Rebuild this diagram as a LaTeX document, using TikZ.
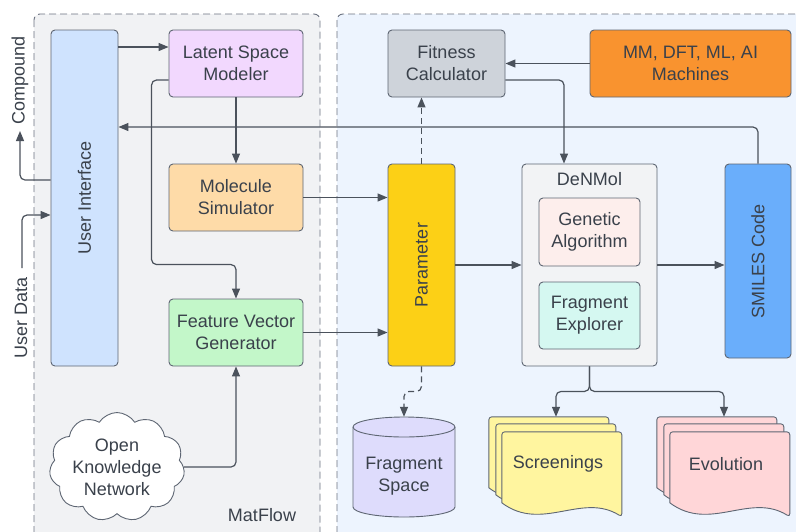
\documentclass[tikz,border=0pt]{standalone}
\usepackage{fontspec}
\setmainfont{Liberation Sans}
\usetikzlibrary{arrows.meta,shapes.symbols,calc}
\definecolor{txt}{HTML}{3A414B}
\definecolor{lin}{HTML}{4B525C}
\definecolor{bord}{HTML}{5E6673}
\definecolor{contc}{HTML}{6B7280}
\definecolor{leftbg}{HTML}{F1F2F4}
\definecolor{rightbg}{HTML}{EDF4FE}
\definecolor{cui}{HTML}{CFE3FE}
\definecolor{clsm}{HTML}{F2D8FE}
\definecolor{cms}{HTML}{FEDBA8}
\definecolor{cfvg}{HTML}{C3F7C9}
\definecolor{cfc}{HTML}{CED3DA}
\definecolor{cmm}{HTML}{F9932F}
\definecolor{cpar}{HTML}{FCD016}
\definecolor{cden}{HTML}{F2F3F5}
\definecolor{cga}{HTML}{FDEEEC}
\definecolor{cfe}{HTML}{D5F8F1}
\definecolor{csm}{HTML}{6AAEFB}
\definecolor{cfs}{HTML}{DEDCFC}
\definecolor{cscr}{HTML}{FFF59F}
\definecolor{cevo}{HTML}{FFD6D8}
\newcommand\mydocstack[2]{%
  \foreach \dx/\dy in {0/0,7/7,13/15}{
    \draw[draw=bord, line width=0.9pt, fill=#2, rounded corners=3pt]
      ($(#1.north west)+(\dx,\dy)$) -- ++(120,0) -- ++(0,85) [sharp corners]
      .. controls ++(-40,-25) and ++(40,30) .. ++(-120,-14) [rounded corners=3pt] -- cycle;
  }%
}
\begin{document}
\begin{tikzpicture}[x=1pt,y=-1pt, font=\fontsize{18}{22}\selectfont, text=txt,
  box/.style={draw=bord, line width=0.9pt, rounded corners=4pt, align=center, inner sep=0pt},
  arr/.style={draw=lin, line width=1.2pt, -{Triangle[length=10pt,width=8pt]}},
  darr/.style={arr, dash pattern=on 6pt off 4pt},
  cont/.style={draw=contc, line width=0.9pt, dash pattern=on 7pt off 4pt, rounded corners=6pt},
  lbl/.style={align=center, inner sep=0pt}
]
\useasboundingbox (0,0) rectangle (796,531);
\begin{scope}
  \clip (0,0) rectangle (796,531);
  \draw[cont, fill=leftbg] (34,14) rectangle (320,560);
  \draw[cont, fill=rightbg] (337,14) rectangle (830,560);
\end{scope}

% left side nodes
\node[box, fill=cui, minimum width=67, minimum height=336] (UI) at (84.5,198) {};
\node[lbl, rotate=90] (UIt) at (UI) {User Interface};
\node[box, fill=clsm, minimum width=134, minimum height=67] (LSM) at (236,63.5) {Latent Space\\Modeler};
\node[box, fill=cms, minimum width=134, minimum height=67] (MS) at (236,197.5) {Molecule\\Simulator};
\node[box, fill=cfvg, minimum width=134, minimum height=67] (FVG) at (236,332.5) {Feature Vector\\Generator};
\node[cloud, draw=bord, line width=0.9pt, fill=white, cloud puffs=11, cloud puff arc=115,
  aspect=1.35, minimum width=132, minimum height=100, align=center, inner sep=0pt] (OKN) at (117,467)
  {Open\\Knowledge\\Network};
\node[lbl] (MF) at (262,515) {MatFlow};
\node[lbl, rotate=90] (CPt) at (20,80) {Compound};
\node[lbl, rotate=90] (UDt) at (21,318) {User Data};
\coordinate (cpend) at (20,131);
\coordinate (udstart) at (22,268);

% right side nodes
\node[box, fill=cfc, minimum width=117, minimum height=67] (FC) at (446.5,63.5) {Fitness\\Calculator};
\node[box, fill=cmm, minimum width=201, minimum height=67] (MM) at (690.5,63.5) {MM, DFT, ML, AI\\Machines};
\node[box, fill=cpar, minimum width=67, minimum height=202] (PAR) at (421.5,265) {};
\node[lbl, rotate=90] (PARt) at (PAR) {Parameter};
\node[box, fill=cden, minimum width=135, minimum height=202] (DEN) at (589.5,265) {};
\node[lbl] (DENt) at (589.5,179) {DeNMol};
\node[box, fill=cga, minimum width=101, minimum height=68] (GA) at (589.5,232) {Genetic\\Algorithm};
\node[box, fill=cfe, minimum width=101, minimum height=67] (FE) at (589.5,315.5) {Fragment\\Explorer};
\node[box, fill=csm, minimum width=66, minimum height=194] (SM) at (758,261) {};
\node[lbl, rotate=90] (SMt) at (SM) {SMILES Code};

% fragment space cylinder
\node[minimum width=102, minimum height=100, inner sep=0pt] (FS) at (404,467) {};
\draw[draw=bord, line width=0.9pt, fill=cfs] (353,427) -- (353,507)
  arc[start angle=180, end angle=0, x radius=51, y radius=10] -- (455,427)
  arc[start angle=0, end angle=-180, x radius=51, y radius=10] -- cycle;
\draw[draw=bord, line width=0.9pt] (353,427) arc[start angle=180, end angle=0, x radius=51, y radius=10];
\node[lbl] (FSt) at (404,476) {Fragment\\Space};

% document stacks
\node[minimum width=134, minimum height=100, inner sep=0pt] (SCR) at (556,467) {};
\mydocstack{SCR}{cscr}
\node[lbl] (SCRt) at (558,464) {Screenings};
\node[minimum width=134, minimum height=100, inner sep=0pt] (EVO) at (724,467) {};
\mydocstack{EVO}{cevo}
\node[lbl] (EVOt) at (726,464) {Evolution};

% connectors
\path ([yshift=16.5pt]LSM.west) coordinate (p1);
\draw[arr] (p1 -| UI.east) -- (p1);
\draw[arr] (LSM.south) -- (MS.north);
\draw[arr, rounded corners=5pt] ([yshift=-16.5pt]LSM.west) -- ++(-17,0) |- ([yshift=34pt]FVG.north) -- (FVG.north);
\draw[arr, rounded corners=5pt] (SM.north) |- ([yshift=71pt]UI.east);
\draw[arr, rounded corners=5pt] ([yshift=18pt]UI.west) -| (cpend);
\draw[arr, rounded corners=5pt] (udstart) |- ([yshift=-17pt]UI.west);
\draw[arr] (MS.east) -- (MS.east -| PAR.west);
\draw[arr] (FVG.east) -- (FVG.east -| PAR.west);
\draw[arr, rounded corners=5pt] (OKN.east) -| (FVG.south);
\draw[darr] (PAR.north) -- (PAR.north |- FC.south);
\draw[arr] (MM.west) -- (FC.east);
\draw[arr, rounded corners=5pt] ([yshift=-16.5pt]FC.east) -| ([xshift=-25.5pt]DEN.north);
\draw[arr] (PAR.east) -- (DEN.west);
\draw[arr] (DEN.east) -- (DEN.east -| SM.west);
\draw[darr, rounded corners=5pt] (PAR.south) -- ++(0,25) -| (FS.north);
\draw[arr, rounded corners=5pt] (DEN.south) -- ++(0,25) -| (SCR.north);
\draw[arr, rounded corners=5pt] (DEN.south) -- ++(0,25) -| (EVO.north);
\end{tikzpicture}
\end{document}
